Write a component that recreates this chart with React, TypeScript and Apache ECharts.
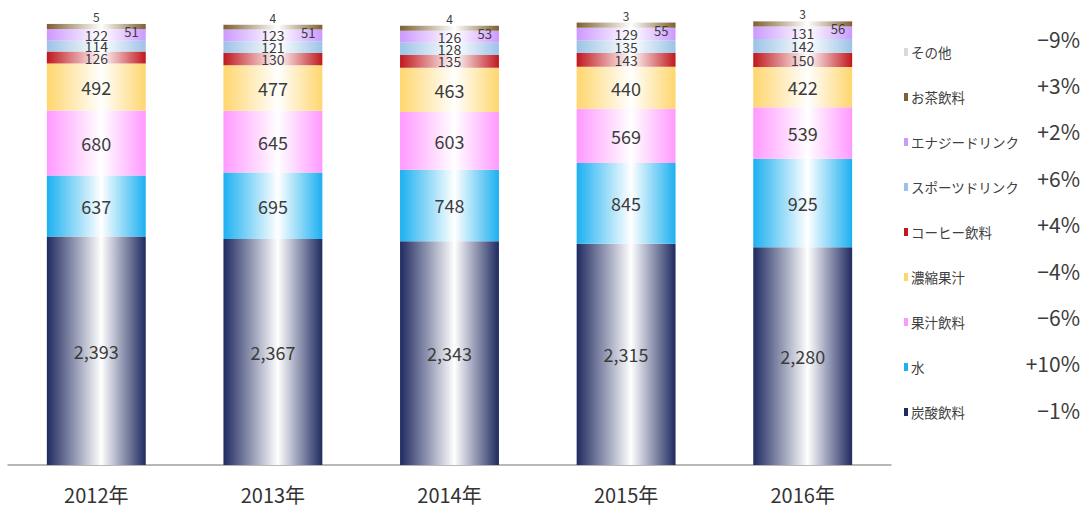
import React, { useEffect, useRef } from "react";
import * as echarts from "echarts";

const years = ["2012年", "2013年", "2014年", "2015年", "2016年"];
const seriesNames = ["炭酸飲料", "水", "果汁飲料", "濃縮果汁", "コーヒー飲料", "スポーツドリンク", "エナジードリンク", "お茶飲料", "その他"];
const carbonated = [2393, 2367, 2343, 2315, 2280];
const water = [637, 695, 748, 845, 925];
const juice = [680, 645, 603, 569, 539];
const concentrate = [492, 477, 463, 440, 422];
const coffee = [126, 130, 135, 143, 150];
const sports = [114, 121, 128, 135, 142];
const energy = [122, 123, 126, 129, 131];
const tea = [51, 51, 53, 55, 56];
const other = [5, 4, 4, 3, 3];
// growth labels, same order as seriesNames (bottom to top)
const growth = ["−1%", "+10%", "−6%", "−4%", "+4%", "+6%", "+2%", "+3%", "−9%"];

const colors = ["#1f2a60", "#1cb0f0", "#ff99ff", "#ffd66e", "#c0181e", "#9cc3e6", "#cc99ff", "#7f6030", "#d9d9d9"];

export default function App() {
  const ref = useRef<HTMLDivElement>(null);
  useEffect(() => {
    if (!ref.current) return;
    const chart = echarts.init(ref.current, undefined, { renderer: "svg" });
    const values = [carbonated, water, juice, concentrate, coffee, sports, energy, tea, other];
    const grad = (c: string) =>
      new echarts.graphic.LinearGradient(0, 0, 1, 0, [
        { offset: 0, color: c },
        { offset: 0.55, color: "#ffffff" },
        { offset: 1, color: c },
      ]);
    const font = "'Noto Sans CJK JP', 'Noto Sans', sans-serif";
    const series = values.map((d, i) => {
      let label: any = { show: true, position: "inside", fontSize: 18, color: "#3c3c3c", fontFamily: font, formatter: (p: any) => p.value.toLocaleString("en-US") };
      if (i >= 4 && i <= 6) label = { ...label, fontSize: 14, lineHeight: 14 };
      if (i === 7) label = { ...label, fontSize: 13, position: "insideRight", distance: 7, offset: [0, 5] };
      if (i === 8) label = { ...label, fontSize: 12, position: "top", distance: 1 };
      return {
        name: seriesNames[i],
        type: "bar",
        stack: "total",
        barWidth: "56%",
        data: d,
        itemStyle: { color: grad(colors[i]) },
        label,
      };
    });
    const n = seriesNames.length;
    const graphic = growth.map((g, i) => ({
      type: "text",
      right: 6,
      top: 28 + (n - 1 - i) * 46.4,
      style: { text: g, fontSize: 21, fill: "#3c3c3c", fontFamily: font },
    }));
    chart.setOption({
      animation: false,
      grid: { left: 8, right: 195, top: 16, bottom: 40 },
      xAxis: {
        type: "category",
        data: years,
        axisLine: { lineStyle: { color: "#a0a0a0", width: 1.5 } },
        axisTick: { show: false },
        axisLabel: { fontSize: 20, lineHeight: 20, color: "#333", margin: 19, fontFamily: font },
      },
      yAxis: { type: "value", min: 0, max: 4700, show: false },
      legend: {
        orient: "vertical",
        left: 899,
        top: 39,
        itemGap: 29,
        itemWidth: 4,
        itemHeight: 8,
        icon: "rect",
        textStyle: { fontSize: 13.5, color: "#404040", lineHeight: 16, fontFamily: font, padding: [0, 0, 0, -2] },
        data: seriesNames.map((s, i) => ({ name: s, itemStyle: { color: colors[i] } })).reverse(),
      },
      graphic,
      series,
    });
    return () => chart.dispose();
  }, []);
  return <div ref={ref} style={{ position: "fixed", left: 0, top: 0, width: 1086, height: 505, background: "#fff" }} />;
}
